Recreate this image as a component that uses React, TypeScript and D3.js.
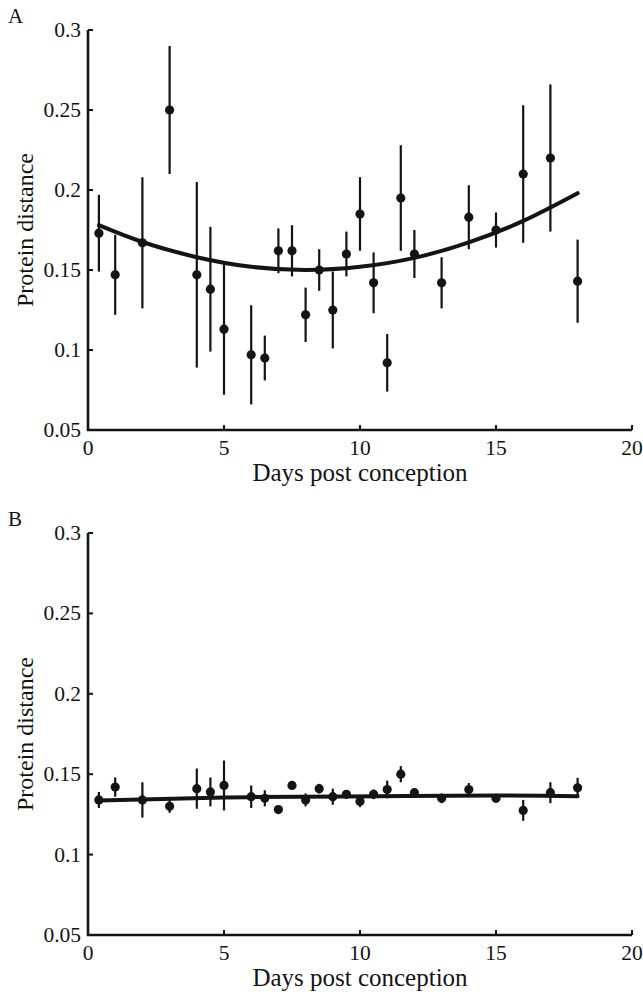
import React from "react";
import * as d3 from "d3";

const days = [0.4, 1, 2, 3, 4, 4.5, 5, 6, 6.5, 7, 7.5, 8, 8.5, 9, 9.5, 10, 10.5, 11, 11.5, 12, 13, 14, 15, 16, 17, 18];

const meanA = [0.173, 0.147, 0.167, 0.25, 0.147, 0.138, 0.113, 0.097, 0.095, 0.162, 0.162, 0.122, 0.15, 0.125, 0.16, 0.185, 0.142, 0.092, 0.195, 0.16, 0.142, 0.183, 0.175, 0.21, 0.22, 0.143];
const errA = [0.024, 0.025, 0.041, 0.04, 0.058, 0.039, 0.041, 0.031, 0.014, 0.014, 0.016, 0.017, 0.013, 0.024, 0.014, 0.023, 0.019, 0.018, 0.033, 0.015, 0.016, 0.02, 0.011, 0.043, 0.046, 0.026];

const meanB = [0.134, 0.142, 0.134, 0.13, 0.141, 0.139, 0.143, 0.136, 0.135, 0.128, 0.143, 0.134, 0.141, 0.136, 0.1375, 0.133, 0.1375, 0.1405, 0.15, 0.1385, 0.135, 0.1405, 0.135, 0.1275, 0.1385, 0.1415];
const errB = [0.005, 0.006, 0.011, 0.004, 0.0125, 0.009, 0.0155, 0.007, 0.005, 0.002, 0.002, 0.004, 0.003, 0.005, 0.002, 0.0035, 0.003, 0.0055, 0.005, 0.002, 0.003, 0.004, 0.002, 0.0065, 0.0065, 0.0062];

const fitXA = [0.4, 2, 4, 6, 8, 10, 12, 14, 16, 18];
const fitYA = [0.178, 0.1675, 0.158, 0.152, 0.15, 0.152, 0.1576, 0.1673, 0.1807, 0.198];

const fitXB = [0.4, 5, 9.5, 15, 18];
const fitYB = [0.1337, 0.1355, 0.1362, 0.1367, 0.1363];

const xTicks = [0, 5, 10, 15, 20];
const yTicks = [0.05, 0.1, 0.15, 0.2, 0.25, 0.3];
const yTickLabels = ["0.05", "0.1", "0.15", "0.2", "0.25", "0.3"];

const FONT = "'Liberation Serif', 'Times New Roman', serif";
const INK = "#141414";

type PanelProps = {
  label: string;
  top: number;
  bottom: number;
  mean: number[];
  err: number[];
  fitX: number[];
  fitY: number[];
};

function Panel({ label, top, bottom, mean, err, fitX, fitY }: PanelProps) {
  const x = d3.scaleLinear().domain([0, 20]).range([88, 632]);
  const y = d3.scaleLinear().domain([0.05, 0.3]).range([bottom, top]);
  const line = d3
    .line<number>()
    .x((_, i) => x(fitX[i]))
    .y((d) => y(d))
    .curve(d3.curveNatural);
  const x0 = x(0);
  const midY = (top + bottom) / 2;
  return (
    <g>
      <text x={8} y={top - 7} fontFamily={FONT} fontSize={21} fill={INK}>
        {label}
      </text>
      <path
        d={`M${x0},${y(0.3)}V${bottom}H${x(20)}`}
        fill="none"
        stroke={INK}
        strokeWidth={2.6}
      />
      {yTicks.map((t, i) => (
        <g key={"y" + i}>
          <line x1={x0} x2={x0 + 5} y1={y(t)} y2={y(t)} stroke={INK} strokeWidth={2} />
          <text
            x={x0 - 7}
            y={y(t) + 7}
            textAnchor="end"
            fontFamily={FONT}
            fontSize={21.5}
            fill={INK}
          >
            {yTickLabels[i]}
          </text>
        </g>
      ))}
      {xTicks.map((t, i) => (
        <g key={"x" + i}>
          <line x1={x(t)} x2={x(t)} y1={bottom} y2={bottom - 5} stroke={INK} strokeWidth={2} />
          <text
            x={x(t)}
            y={bottom + 25}
            textAnchor="middle"
            fontFamily={FONT}
            fontSize={21.5}
            fill={INK}
          >
            {t}
          </text>
        </g>
      ))}
      <text
        x={(x(0) + x(20)) / 2}
        y={bottom + 51}
        textAnchor="middle"
        fontFamily={FONT}
        fontSize={25}
        fill={INK}
      >
        Days post conception
      </text>
      <text
        transform={`translate(33,${midY}) rotate(-90)`}
        textAnchor="middle"
        fontFamily={FONT}
        fontSize={24}
        fill={INK}
      >
        Protein distance
      </text>
      {days.map((d, i) => (
        <line
          key={"e" + i}
          x1={x(d)}
          x2={x(d)}
          y1={y(mean[i] - err[i])}
          y2={y(mean[i] + err[i])}
          stroke={INK}
          strokeWidth={2.2}
        />
      ))}
      <path d={line(fitY) || ""} fill="none" stroke={INK} strokeWidth={4} strokeLinecap="round" />
      {days.map((d, i) => (
        <circle key={"p" + i} cx={x(d)} cy={y(mean[i])} r={4.6} fill={INK} />
      ))}
    </g>
  );
}

export default function App() {
  return (
    <svg
      width={643}
      height={992}
      style={{ position: "absolute", left: 0, top: 0, background: "#fff" }}
    >
      <rect width={643} height={992} fill="#fff" />
      <Panel label="A" top={30} bottom={430} mean={meanA} err={errA} fitX={fitXA} fitY={fitYA} />
      <Panel label="B" top={533} bottom={935} mean={meanB} err={errB} fitX={fitXB} fitY={fitYB} />
    </svg>
  );
}
